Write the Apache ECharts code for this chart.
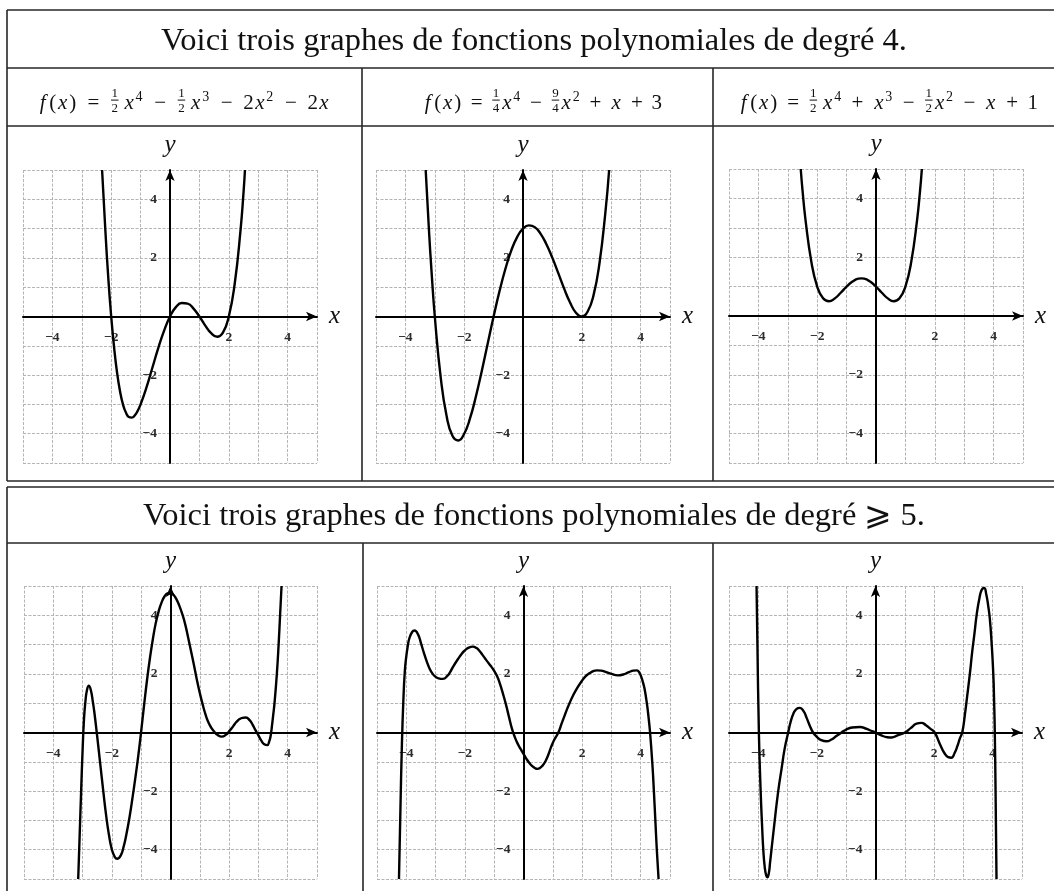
<!DOCTYPE html>
<html>
<head>
<meta charset="utf-8">
<script src="https://cdn.jsdelivr.net/npm/echarts@6/dist/echarts.min.js"></script>
<style>
  html, body { margin: 0; padding: 0; background: #fff; }
  #chart { width: 1054px; height: 891px; }
</style>
</head>
<body>
<div id="chart"></div>
<script>
// ---- Texts -------------------------------------------------------------
const TITLE_DEG4 = 'Voici trois graphes de fonctions polynomiales de degré 4.';
const TITLE_DEG5 = 'Voici trois graphes de fonctions polynomiales de degré \u2A7E 5.';

// Formulas as typeset tokens: i = italic, r = roman, rel / bin = operators,
// sup = exponent, frac = small stacked fraction, thin = thin space
const FORMULA_1 = [['i','f'],['r','('],['i','x'],['r',')'],['rel','='],['frac','1','2'],['thin'],['i','x'],['sup','4'],
  ['bin','\u2212'],['frac','1','2'],['thin'],['i','x'],['sup','3'],['bin','\u2212'],['r','2'],['i','x'],['sup','2'],
  ['bin','\u2212'],['r','2'],['i','x']];
const FORMULA_2 = [['i','f'],['r','('],['i','x'],['r',')'],['rel','='],['frac','1','4'],['i','x'],['sup','4'],
  ['bin','\u2212'],['frac','9','4'],['i','x'],['sup','2'],['bin','+'],['i','x'],['bin','+'],['r','3']];
const FORMULA_3 = [['i','f'],['r','('],['i','x'],['r',')'],['rel','='],['frac','1','2'],['thin'],['i','x'],['sup','4'],
  ['bin','+'],['i','x'],['sup','3'],['bin','\u2212'],['frac','1','2'],['i','x'],['sup','2'],['bin','\u2212'],['i','x'],
  ['bin','+'],['r','1']];

// ---- Axes ----------------------------------------------------------------
const AXIS_MIN = -5, AXIS_MAX = 5, AXIS_STEP = 1;
const X_TICK_LABELS = [-4, -2, 2, 4];
const Y_TICK_LABELS = [-4, -2, 2, 4];
const X_NAME = 'x', Y_NAME = 'y';

// ---- Curves [x, y] ---------------------------------------------------------
const CURVE_1 = [[-2.31,5],[-2.2,2.96],[-2.1,1.33],[-2.0,0],[-1.9,-1.07],[-1.8,-1.92],[-1.7,-2.55],[-1.6,-3.0],
  [-1.5,-3.28],[-1.4,-3.43],[-1.3,-3.45],[-1.2,-3.38],[-1.1,-3.22],[-1.0,-3.0],[-0.8,-2.42],[-0.6,-1.75],
  [-0.4,-1.08],[-0.2,-0.48],[0,0],[0.2,0.32],[0.4,0.46],[0.6,0.44],[0.8,0.27],[1.0,0],[1.2,-0.31],[1.4,-0.57],
  [1.6,-0.69],[1.8,-0.55],[2.0,0],[2.2,1.11],[2.4,2.96],[2.5,4.22],[2.55,5]];
const CURVE_2 = [[-3.31,5],[-3.2,2.97],[-3.1,1.37],[-3.0,0],[-2.8,-2.07],[-2.6,-3.39],[-2.4,-4.07],[-2.2,-4.23],
  [-2.0,-4.0],[-1.8,-3.47],[-1.6,-2.72],[-1.4,-1.85],[-1.2,-0.92],[-1.0,0],[-0.8,0.86],[-0.6,1.62],[-0.4,2.25],
  [-0.2,2.71],[0,3],[0.2,3.11],[0.4,3.05],[0.6,2.82],[0.8,2.46],[1.0,2.0],[1.2,1.48],[1.4,0.95],[1.6,0.48],
  [1.8,0.13],[2.0,0],[2.2,0.17],[2.4,0.73],[2.6,1.81],[2.8,3.53],[2.93,5]];
const CURVE_3 = [[-2.56,5],[-2.5,4.28],[-2.4,3.29],[-2.2,1.85],[-2.0,1.0],[-1.8,0.6],[-1.6,0.5],[-1.4,0.6],
  [-1.2,0.79],[-1.0,1.0],[-0.8,1.17],[-0.6,1.27],[-0.5,1.28],[-0.4,1.27],[-0.2,1.17],[0,1.0],[0.2,0.79],
  [0.4,0.6],[0.6,0.5],[0.8,0.6],[1.0,1.0],[1.2,1.85],[1.4,3.29],[1.5,4.28],[1.56,5]];
const CURVE_4 = [[-3.15,-5],[-3.1,-3.5],[-3.05,-2],[-3.0,-0.6],[-2.95,0.5],[-2.9,1.1],[-2.85,1.45],[-2.79,1.6],
  [-2.72,1.45],[-2.65,1.05],[-2.6,0.7],[-2.5,-0.15],[-2.4,-1.05],[-2.3,-1.95],[-2.2,-2.8],[-2.1,-3.5],[-2.0,-4.0],
  [-1.9,-4.25],[-1.82,-4.31],[-1.7,-4.2],[-1.6,-3.9],[-1.5,-3.45],[-1.4,-2.9],[-1.3,-2.25],[-1.2,-1.55],
  [-1.1,-0.8],[-1.0,0.05],[-0.9,0.95],[-0.8,1.8],[-0.7,2.55],[-0.6,3.2],[-0.5,3.75],[-0.4,4.15],[-0.3,4.45],
  [-0.2,4.65],[-0.1,4.75],[0,4.77],[0.1,4.7],[0.2,4.55],[0.3,4.33],[0.4,4.05],[0.5,3.7],[0.6,3.25],[0.7,2.78],
  [0.8,2.3],[0.9,1.8],[1.0,1.35],[1.1,0.95],[1.2,0.6],[1.3,0.33],[1.4,0.15],[1.5,0.02],[1.6,-0.08],[1.75,-0.14],
  [1.9,-0.07],[2.0,0.04],[2.1,0.16],[2.2,0.3],[2.3,0.41],[2.45,0.5],[2.57,0.51],[2.7,0.42],[2.8,0.27],[2.9,0.08],
  [3.0,-0.1],[3.1,-0.28],[3.2,-0.4],[3.3,-0.43],[3.37,-0.3],[3.42,-0.1],[3.46,0.2],[3.5,0.55],[3.55,1.0],
  [3.63,2.0],[3.69,3.0],[3.74,4.0],[3.79,5.0]];
const CURVE_5 = [[-4.25,-5],[-4.2,-2.6],[-4.15,-0.4],[-4.1,1.1],[-4.05,2.1],[-4.0,2.6],[-3.95,2.95],[-3.9,3.2],
  [-3.8,3.43],[-3.72,3.48],[-3.6,3.35],[-3.5,3.05],[-3.4,2.72],[-3.3,2.42],[-3.2,2.17],[-3.1,2.0],[-3.0,1.9],
  [-2.9,1.85],[-2.75,1.83],[-2.6,1.93],[-2.5,2.07],[-2.4,2.25],[-2.24,2.5],[-2.1,2.7],[-2.0,2.8],[-1.9,2.88],
  [-1.73,2.93],[-1.6,2.88],[-1.5,2.78],[-1.4,2.65],[-1.27,2.47],[-1.1,2.25],[-1.0,2.1],[-0.9,1.92],[-0.8,1.65],
  [-0.7,1.32],[-0.6,0.96],[-0.5,0.55],[-0.4,0.15],[-0.3,-0.15],[-0.2,-0.38],[-0.1,-0.56],[0,-0.73],[0.1,-0.9],
  [0.2,-1.04],[0.3,-1.15],[0.4,-1.22],[0.47,-1.24],[0.55,-1.22],[0.65,-1.13],[0.75,-0.98],[0.85,-0.75],
  [0.94,-0.5],[1.05,-0.25],[1.19,0],[1.3,0.3],[1.4,0.57],[1.5,0.83],[1.57,1.0],[1.7,1.28],[1.82,1.5],[1.95,1.7],
  [2.1,1.9],[2.25,2.02],[2.4,2.1],[2.5,2.12],[2.65,2.11],[2.8,2.07],[3.0,2.0],[3.22,1.95],[3.4,1.98],[3.6,2.06],
  [3.75,2.11],[3.87,2.12],[3.95,2.05],[4.02,1.9],[4.08,1.7],[4.13,1.5],[4.21,1.0],[4.27,0.5],[4.32,0],
  [4.4,-1.1],[4.45,-2.0],[4.5,-3.0],[4.55,-4.0],[4.61,-5.0]];
const CURVE_6 = [[-4.06,5],[-4.03,3],[-3.98,0],[-3.92,-2],[-3.87,-3.2],[-3.83,-4.0],[-3.78,-4.6],[-3.73,-4.88],
  [-3.69,-4.94],[-3.64,-4.8],[-3.6,-4.45],[-3.55,-4.0],[-3.45,-3.1],[-3.32,-2.0],[-3.2,-1.2],[-3.1,-0.55],
  [-2.98,0],[-2.9,0.35],[-2.8,0.65],[-2.7,0.8],[-2.58,0.84],[-2.45,0.72],[-2.35,0.5],[-2.25,0.25],[-2.13,0],
  [-2.0,-0.15],[-1.85,-0.26],[-1.67,-0.3],[-1.5,-0.24],[-1.35,-0.13],[-1.16,0],[-1.0,0.1],[-0.8,0.17],
  [-0.53,0.19],[-0.3,0.12],[-0.15,0.06],[0,0],[0.2,-0.1],[0.4,-0.16],[0.55,-0.17],[0.75,-0.1],[1.0,0],
  [1.2,0.15],[1.4,0.3],[1.57,0.33],[1.72,0.25],[1.87,0.13],[2.02,0],[2.2,-0.4],[2.35,-0.7],[2.48,-0.84],
  [2.59,-0.86],[2.7,-0.7],[2.8,-0.45],[2.88,-0.2],[2.96,0],[3.05,0.6],[3.13,1.25],[3.22,2.0],[3.3,2.75],
  [3.38,3.4],[3.45,4.0],[3.55,4.6],[3.63,4.88],[3.71,4.93],[3.78,4.72],[3.85,4.3],[3.9,3.9],[3.96,3.1],
  [4.02,2.0],[4.05,1.0],[4.07,0.1],[4.1,-2.2],[4.13,-5]];

const CURVES = [CURVE_1, CURVE_2, CURVE_3, CURVE_4, CURVE_5, CURVE_6];
const FORMULAS = [FORMULA_1, FORMULA_2, FORMULA_3];

// ---- Layout --------------------------------------------------------------
const SERIF = '"Liberation Serif", "DejaVu Serif", serif';
const INK = '#111';
const PANELS = [
  { left: 23,  top: 170, width: 294, height: 293 },
  { left: 376, top: 170, width: 294, height: 293 },
  { left: 729, top: 169, width: 294, height: 294 },
  { left: 24,  top: 586, width: 293, height: 293 },
  { left: 377, top: 586, width: 293, height: 293 },
  { left: 729, top: 586, width: 293, height: 293 }
];
// formula boxes: centre and overall width of each formula line
const FORMULA_SLOTS = [
  { cx: 183.5, cy: 103.5, width: 293 },
  { cx: 542,   cy: 103.5, width: 240 },
  { cx: 888,   cy: 103.5, width: 300 }
];
const FS = 21;            // formula glyph size
const FS_SUP = 14;        // exponent size
const FS_FRAC = 13;       // fraction digit size

const measureCtx = document.createElement('canvas').getContext('2d');
function measure(text, size, style) {
  measureCtx.font = (style || 'normal') + ' ' + size + 'px ' + SERIF;
  return measureCtx.measureText(text).width;
}

function tickFormatter(list) {
  return v => list.indexOf(v) >= 0 ? (v < 0 ? '\u2212' + (-v) : String(v)) : '';
}

function txt(text, x, y, size, style, align, weight) {
  return {
    type: 'text', x: x, y: y, silent: true,
    style: { text: text, fill: INK, fontFamily: SERIF, fontSize: size, fontStyle: style || 'normal',
             fontWeight: weight || 'normal', align: align || 'center', verticalAlign: 'middle' }
  };
}

// advance of a token (operators counted without their surrounding space)
function tokenWidth(t) {
  switch (t[0]) {
    case 'i': return t[1] === 'f' ? Math.max(measure('f', FS, 'italic') + 3, 0.55 * FS)
                                  : Math.max(measure(t[1], FS, 'italic') + 0.5, 0.572 * FS);
    case 'r': return (t[1] === '(' || t[1] === ')') ? Math.max(measure(t[1], FS), 0.389 * FS) : measure(t[1], FS);
    case 'rel':
    case 'bin': return measure(t[1], FS);
    case 'sup': return measure(t[1], FS_SUP) + 1.5;
    case 'frac': return Math.max(measure(t[1], FS_FRAC), measure(t[2], FS_FRAC)) + 3;
    case 'thin': return FS * 0.167;
  }
  return 0;
}

function layoutFormula(tokens, slot) {
  const nat = tokens.reduce((s, t) => s + tokenWidth(t), 0);
  const nOps = tokens.filter(t => t[0] === 'rel' || t[0] === 'bin').length;
  const gap = Math.max(2, (slot.width - nat) / (2 * nOps));
  const cy = slot.cy;
  let x = slot.cx - slot.width / 2;
  const out = [];
  tokens.forEach(t => {
    const isOp = t[0] === 'rel' || t[0] === 'bin';
    const w = tokenWidth(t) + (isOp ? 2 * gap : 0);
    const mid = x + w / 2;
    if (t[0] === 'i') out.push(txt(t[1], mid, cy, FS, 'italic'));
    else if (t[0] === 'r' || isOp) out.push(txt(t[1], mid, cy, FS));
    else if (t[0] === 'sup') out.push(txt(t[1], x + 0.5, cy - 6.5, FS_SUP, 'normal', 'left'));
    else if (t[0] === 'frac') {
      const bw = w - 2;
      out.push(txt(t[1], mid, cy - 9.8, FS_FRAC));
      out.push(txt(t[2], mid, cy + 4.6, FS_FRAC));
      out.push({ type: 'line', silent: true,
        shape: { x1: mid - bw / 2, y1: cy - 3.4, x2: mid + bw / 2, y2: cy - 3.4 },
        style: { stroke: INK, lineWidth: 1 } });
    }
    x += w;
  });
  return out;
}

function hLine(x1, x2, y) {
  return { type: 'line', silent: true, shape: { x1: x1, y1: y, x2: x2, y2: y },
           style: { stroke: '#262626', lineWidth: 1.6 } };
}
function vLine(x, y1, y2) {
  return { type: 'line', silent: true, shape: { x1: x, y1: y1, x2: x, y2: y2 },
           style: { stroke: '#262626', lineWidth: 1.6 } };
}

// table frames and titles
const graphicEls = [
  hLine(7, 1054, 10), hLine(7, 1054, 68), hLine(7, 1054, 126), hLine(7, 1054, 481),
  vLine(7, 10, 481), vLine(362, 68, 481), vLine(713, 68, 481),
  hLine(7, 1054, 487), hLine(7, 1054, 543),
  vLine(7, 487, 891), vLine(363, 543, 891), vLine(713, 543, 891),
  txt(TITLE_DEG4, 534, 41, 32.5),
  txt(TITLE_DEG5, 534, 516, 32.5)
];
FORMULAS.forEach((f, i) => {
  layoutFormula(f, FORMULA_SLOTS[i]).forEach(e => graphicEls.push(e));
});

const gridLine = { color: '#b4b4b4', width: 1, type: [3, 1.5] };
const nameStyle = { fontFamily: SERIF, fontStyle: 'italic', fontSize: 25, color: INK };
const labelStyle = { fontFamily: SERIF, fontWeight: 'bold', fontSize: 13.5, color: '#2b2b2b' };
const axisLineStyle = { show: true, onZero: false, symbol: ['none', 'arrow'], symbolSize: [7, 11],
                        lineStyle: { color: '#000', width: 2 } };

const option = {
  animation: false,
  backgroundColor: '#fff',
  grid: PANELS.map(p => Object.assign({ containLabel: false }, p)),
  // axes sit on the zero lines: the range is symmetric, so the axis is moved half the grid inwards
  xAxis: PANELS.map((p, i) => ({
    gridIndex: i, type: 'value', min: AXIS_MIN, max: AXIS_MAX, interval: AXIS_STEP,
    position: 'bottom', offset: -p.height / 2,
    name: X_NAME, nameLocation: 'end', nameGap: 12, nameTextStyle: nameStyle,
    axisLine: axisLineStyle,
    axisTick: { show: false },
    axisLabel: Object.assign({ formatter: tickFormatter(X_TICK_LABELS), margin: 14 }, labelStyle),
    splitLine: { show: true, lineStyle: gridLine }
  })),
  yAxis: PANELS.map((p, i) => ({
    gridIndex: i, type: 'value', min: AXIS_MIN, max: AXIS_MAX, interval: AXIS_STEP,
    position: 'left', offset: -p.width / 2,
    name: Y_NAME, nameLocation: 'end', nameGap: 12, nameTextStyle: nameStyle,
    axisLine: axisLineStyle,
    axisTick: { show: false },
    axisLabel: Object.assign({ formatter: tickFormatter(Y_TICK_LABELS), margin: 13 }, labelStyle),
    splitLine: { show: true, lineStyle: gridLine }
  })),
  series: CURVES.map((c, i) => ({
    type: 'line', xAxisIndex: i, yAxisIndex: i, data: c,
    showSymbol: false, smooth: 0.5, clip: true, silent: true,
    lineStyle: { color: '#000', width: 2.4 }, z: 5
  })),
  graphic: { elements: graphicEls }
};

const chart = echarts.init(document.getElementById('chart'), null, { renderer: 'canvas' });
chart.setOption(option);
</script>
</body>
</html>
